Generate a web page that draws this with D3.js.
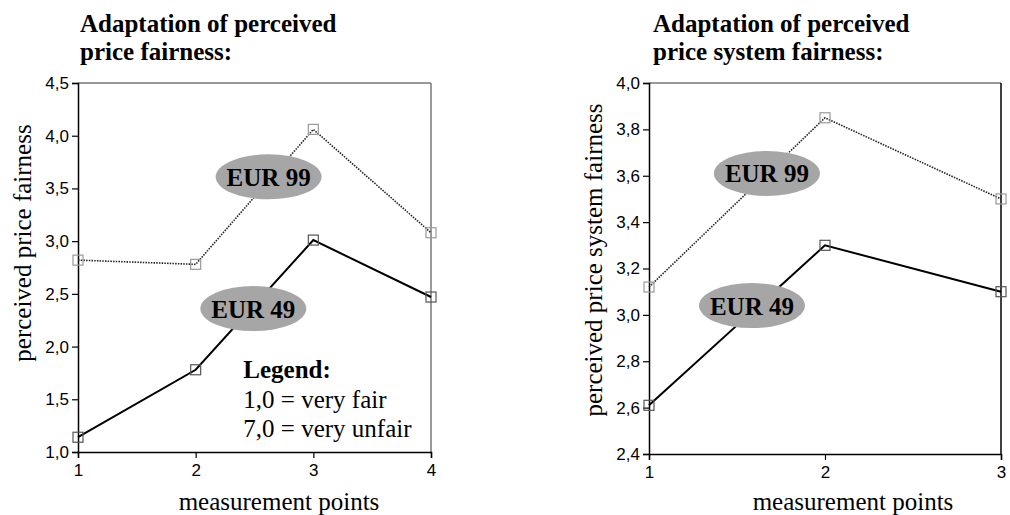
<!DOCTYPE html>
<html>
<head>
<meta charset="utf-8">
<script src="https://cdn.jsdelivr.net/npm/d3@7"></script>
<style>
  body { margin: 0; background: #fff; }
  .serif { font-family: "Liberation Serif", "Times New Roman", serif; }
</style>
</head>
<body>
<svg id="chart" width="1010" height="515"></svg>
<script>
const pointsLeft = [1, 2, 3, 4];
const fairness99 = [2.82, 2.78, 4.06, 3.08];
const fairness49 = [1.14, 1.78, 3.01, 2.47];
const ticksLeft = [1.0, 1.5, 2.0, 2.5, 3.0, 3.5, 4.0, 4.5];

const pointsRight = [1, 2, 3];
const system99 = [3.12, 3.85, 3.50];
const system49 = [2.61, 3.30, 3.10];
const ticksRight = [2.4, 2.6, 2.8, 3.0, 3.2, 3.4, 3.6, 3.8, 4.0];

const seriesNames = ["EUR 99", "EUR 49"];
const legendLines = ["Legend:", "1,0 = very fair", "7,0 = very unfair"];

const svg = d3.select("#chart");
const comma = d => d3.format(".1f")(d).replace(".", ",");

function panel(opt) {
    let self = {};
    self.x = d3.scaleLinear().domain(d3.extent(opt.points)).range([opt.left, opt.right]);
    self.y = d3.scaleLinear().domain(d3.extent(opt.ticks)).range([opt.bottom, opt.top]);
    let g = svg.append("g");

    // title, two lines
    let title = g.append("text").attr("class", "serif")
        .attr("font-size", 25).attr("font-weight", "bold");
    opt.title.forEach((t, i) => {
        title.append("tspan").attr("x", opt.titleX).attr("y", 32 + i * 28).text(t);
    });

    // frame top + right
    g.append("line").attr("x1", opt.left).attr("x2", opt.right)
        .attr("y1", opt.top).attr("y2", opt.top)
        .attr("stroke", "#333").attr("stroke-width", 1.2);
    g.append("line").attr("x1", opt.right).attr("x2", opt.right)
        .attr("y1", opt.top).attr("y2", opt.bottom)
        .attr("stroke", opt.rightColor).attr("stroke-width", 1.5);

    // axes
    let ya = g.append("g").attr("transform", "translate(" + opt.left + ",0)")
        .call(d3.axisLeft(self.y).tickValues(opt.ticks).tickFormat(comma).tickSize(6).tickPadding(3));
    let xa = g.append("g").attr("transform", "translate(0," + opt.bottom + ")")
        .call(d3.axisBottom(self.x).tickValues(opt.points).tickFormat(d3.format("d")).tickSize(6).tickPadding(6));
    [ya, xa].forEach(a => {
        a.select(".domain").attr("stroke", "#000").attr("stroke-width", 1.5);
        a.selectAll(".tick line").attr("stroke", "#000").attr("stroke-width", 1.2);
        a.selectAll(".tick text").attr("fill", "#000")
            .attr("font-size", 17).attr("font-family", "'Liberation Sans', Arial, sans-serif");
    });

    // axis titles
    g.append("text").attr("class", "serif").attr("font-size", 25)
        .attr("text-anchor", "middle")
        .attr("transform", "translate(" + opt.yLabelX + "," + opt.yLabelY + ") rotate(-90)")
        .text(opt.yLabel);
    g.append("text").attr("class", "serif").attr("font-size", 25)
        .attr("text-anchor", "middle")
        .attr("x", opt.xLabelX).attr("y", 510)
        .text("measurement points");

    let line = d3.line().x((d, i) => self.x(opt.points[i])).y(d => self.y(d));

    g.append("path").datum(opt.s99).attr("d", line)
        .attr("fill", "none").attr("stroke", "#222").attr("stroke-width", 1.6)
        .attr("stroke-dasharray", "1.5,1.2");
    g.append("path").datum(opt.s49).attr("d", line)
        .attr("fill", "none").attr("stroke", "#000").attr("stroke-width", 2);

    // name bubbles
    opt.bubbles.forEach((b, i) => {
        let cx = self.x(b[0]), cy = self.y(b[1]);
        g.append("ellipse").attr("cx", cx).attr("cy", cy).attr("rx", 53).attr("ry", 22.5)
            .attr("fill", "#a6a6a6");
        g.append("text").attr("class", "serif").attr("font-size", 25).attr("font-weight", "bold")
            .attr("text-anchor", "middle").attr("x", cx).attr("y", cy + 9)
            .text(seriesNames[i]);
    });

    // markers
    [[opt.s99, "#999"], [opt.s49, "#555"]].forEach(([s, c]) => {
        g.selectAll(null).data(s).enter().append("rect")
            .attr("x", (d, i) => self.x(opt.points[i]) - 5)
            .attr("y", d => self.y(d) - 5)
            .attr("width", 10).attr("height", 10)
            .attr("fill", "none").attr("stroke", c).attr("stroke-width", 1.2);
    });
    return self;
}

let left = panel({
    points: pointsLeft, ticks: ticksLeft, s99: fairness99, s49: fairness49,
    left: 78, right: 431, top: 83, bottom: 452, rightColor: "#777",
    title: ["Adaptation of perceived", "price fairness:"], titleX: 80,
    yLabel: "perceived price fairness", yLabelX: 31, yLabelY: 243,
    xLabelX: 279,
    bubbles: [[2.62, 3.61], [2.49, 2.36]]
});

// legend inside left plot
let lg = svg.append("text").attr("class", "serif").attr("font-size", 25);
legendLines.forEach((t, i) => {
    lg.append("tspan").attr("x", left.x(2.405)).attr("y", left.y(1.7) + i * 29.5)
        .attr("font-weight", i === 0 ? "bold" : "normal").text(t);
});

panel({
    points: pointsRight, ticks: ticksRight, s99: system99, s49: system49,
    left: 649, right: 1001, top: 83, bottom: 454, rightColor: "#000",
    title: ["Adaptation of perceived", "price system fairness:"], titleX: 653,
    yLabel: "perceived price system fairness", yLabelX: 602, yLabelY: 260,
    xLabelX: 853,
    bubbles: [[1.67, 3.61], [1.585, 3.04]]
});
</script>
</body>
</html>
